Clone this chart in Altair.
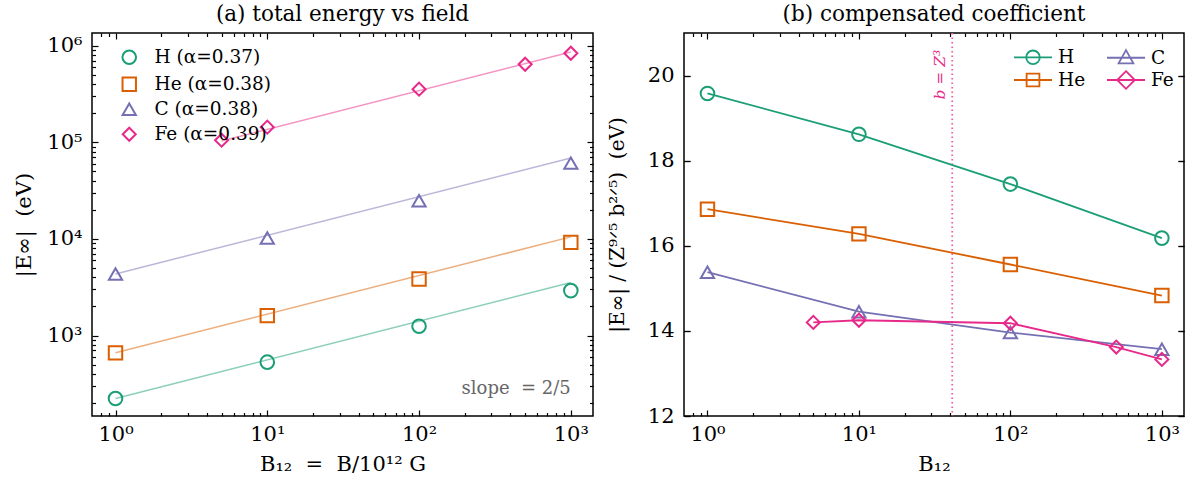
import altair as alt
import pandas as pd

FONT = "DejaVu Serif"

# ---------------- data ----------------
elements = ["H", "He", "C", "Fe"]
alphas = ["0.37", "0.38", "0.38", "0.39"]
colors = ["#1b9e77", "#d95f02", "#7570b3", "#e7298a"]
shapes = ["circle", "square", "triangle-up", "diamond"]
marker_sizes = [185, 170, 225, 310]

# panel (a): |E_inf| (eV) vs B12
B_H = [1, 10, 100, 1000]
E_H = [223, 530, 1247, 2915]
B_He = [1, 10, 100, 1000]
E_He = [662, 1607, 3846, 9204]
B_C = [1, 10, 100, 1000]
E_C = [4335, 10210, 24830, 60800]
B_Fe = [5, 10, 100, 500, 1000]
E_Fe = [105000, 143200, 354000, 641000, 833000]

# slope = 2/5 guide lines (end points)
fit_B_H = [1, 1000]
fit_E_H = [223, 3535]
fit_B_He = [1, 1000]
fit_E_He = [662, 10490]
fit_B_C = [1, 1000]
fit_E_C = [4335, 68700]
fit_B_Fe = [5, 1000]
fit_E_Fe = [103000, 858000]

# panel (b): compensated coefficient
C_H = [19.58, 18.62, 17.45, 16.18]
C_He = [16.86, 16.28, 15.56, 14.83]
C_C = [15.38, 14.45, 13.96, 13.57]
C_Fe = [14.20, 14.25, 14.18, 13.62, 13.33]

b_eq_Z3_B = [41.3]
b_label_C = [20.02]
slope_B = [1000]
slope_E = [282]

# axes ticks & labels
x_major = [1, 10, 100, 1000]
x_labels = ["10⁰", "10¹", "10²", "10³"]
x_minor = [0.8, 0.9, 2, 3, 4, 5, 6, 7, 8, 9, 20, 30, 40, 50, 60, 70, 80, 90,
           200, 300, 400, 500, 600, 700, 800, 900]
ya_major = [1000, 10000, 100000, 1000000]
ya_labels = ["10³", "10⁴", "10⁵", "10⁶"]
ya_minor = [200, 300, 400, 500, 600, 700, 800, 900,
            2000, 3000, 4000, 5000, 6000, 7000, 8000, 9000,
            20000, 30000, 40000, 50000, 60000, 70000, 80000, 90000,
            200000, 300000, 400000, 500000, 600000, 700000, 800000, 900000]
yb_major = [12, 14, 16, 18, 20]

# legend glyphs for panel (b): line segment with the marker in its middle
# (unit = half of sqrt(symbolSize))
legend_paths = [
    "M-1,0H2.8M1.58,0A0.68,0.68,0,1,1,0.22,0A0.68,0.68,0,1,1,1.58,0",
    "M-1,0H2.8M0.26,-0.64H1.54V0.64H0.26Z",
    "M-1,0H2.8M0.9,-0.76L1.64,0.56H0.16Z",
    "M-1,0H2.8M0.9,-0.88L1.78,0L0.9,0.88L0.02,0Z",
]

NB = "\u00a0"

# ---------------- tables ----------------
def long_table(xs_list, ys_list, xname, yname):
    rows = []
    for el, xs, ys in zip(elements, xs_list, ys_list):
        for x, y in zip(xs, ys):
            rows.append({"el": el, xname: x, yname: y})
    return pd.DataFrame(rows)

df_a = long_table([B_H, B_He, B_C, B_Fe], [E_H, E_He, E_C, E_Fe], "B", "E")
df_fit = long_table([fit_B_H, fit_B_He, fit_B_C, fit_B_Fe],
                    [fit_E_H, fit_E_He, fit_E_C, fit_E_Fe], "B", "E")
df_b = long_table([B_H, B_He, B_C, B_Fe], [C_H, C_He, C_C, C_Fe], "B", "C")
df_slope = pd.DataFrame({"B": slope_B, "E": slope_E, "t": ["slope" + NB + NB + "= 2/5"]})
df_vline = pd.DataFrame({"B": b_eq_Z3_B, "C": b_label_C, "t": ["b = Z³"]})

# ---------------- helpers ----------------
def label_expr(labels, offset):
    arr = "[" + ",".join("'" + s + "'" for s in labels) + "]"
    return f"{arr}[round(log(datum.value)/LN10) - {offset}]"

def tick_axis(orient, values, size):
    return alt.Axis(orient=orient, values=values, ticks=True,
                    tickSize={"expr": str(-size)}, tickColor="black",
                    tickWidth=1.2, labels=False, domain=False, grid=False,
                    title=None, minExtent=0, maxExtent=0)

def main_axis(orient, values, title, lab_expr=None, pad=7, tpad=8, tsize=21):
    kw = dict(orient=orient, values=values, ticks=False, domain=False,
              grid=False, title=title, labelFont=FONT, titleFont=FONT,
              labelFontSize=21, titleFontSize=tsize, labelColor="black",
              titleColor="black", titleFontWeight="normal",
              labelPadding=pad, titlePadding=tpad,
              labelFlush=False, labelOverlap=False)
    if lab_expr is not None:
        kw["labelExpr"] = lab_expr
    return alt.Axis(**kw)

W, H = 501, 383

color_scale = alt.Scale(domain=elements, range=colors)
shape_scale = alt.Scale(domain=elements, range=shapes)
size_scale = alt.Scale(domain=elements, range=marker_sizes)

# ---------------- panel (a) ----------------
xa = alt.Scale(type="log", domain=[0.7, 1400], nice=False)
ya = alt.Scale(type="log", domain=[147, 1.35e6], nice=False)

legend_a_labels = "{" + ",".join(f"'{e}':'{e} (α={a})'" for e, a in zip(elements, alphas)) + "}"
leg_a = alt.Legend(title=None, orient="none", legendX=28, legendY=15,
                   labelFont=FONT, labelFontSize=18.5, labelColor="black",
                   labelExpr=legend_a_labels + "[datum.label]",
                   symbolStrokeWidth=2, rowPadding=4, labelOffset=16,
                   symbolOpacity=1, symbolFillColor="transparent")

lines_a = alt.Chart(df_fit).mark_line(strokeWidth=1.5, opacity=0.5).encode(
    x=alt.X("B:Q", scale=xa,
            axis=main_axis("bottom", x_major, "B₁₂" + NB + " =" + NB + " B/10¹² G",
                           label_expr(x_labels, 0), pad=7, tpad=9)),
    y=alt.Y("E:Q", scale=ya,
            axis=main_axis("left", ya_major, "|E∞|" + NB + NB + "(eV)",
                           label_expr(ya_labels, 3), pad=10, tpad=12)),
    color=alt.Color("el:N", scale=color_scale, legend=None),
    detail="el:N",
)
points_a = alt.Chart(df_a).mark_point(filled=False, strokeWidth=2, opacity=1).encode(
    x=alt.X("B:Q", scale=xa, axis=None),
    y=alt.Y("E:Q", scale=ya, axis=None),
    color=alt.Color("el:N", scale=color_scale, legend=leg_a),
    shape=alt.Shape("el:N", scale=shape_scale, legend=leg_a),
    size=alt.Size("el:N", scale=size_scale, legend=leg_a),
)
slope_txt = alt.Chart(df_slope).mark_text(
    align="right", baseline="middle", font=FONT, fontSize=18, color="#666666"
).encode(
    x=alt.X("B:Q", scale=xa, axis=None),
    y=alt.Y("E:Q", scale=ya, axis=None),
    text="t:N",
)

def tick_layers(df, xs, ys, xfield, yfield, x_maj, x_min, y_maj, y_min):
    out = []
    specs = [("bottom", x_maj, 6, "left", y_maj, 6),
             ("top", x_maj, 6, "right", y_maj, 6)]
    if x_min is not None:
        specs.append(("bottom", x_min, 3.5, "left", y_min if y_min else y_maj, 3.5 if y_min else 6))
        specs.append(("top", x_min, 3.5, "right", y_min if y_min else y_maj, 3.5 if y_min else 6))
    for xo, xv, xsz, yo, yv, ysz in specs:
        out.append(alt.Chart(df).mark_point(opacity=0).encode(
            x=alt.X(f"{xfield}:Q", scale=xs, axis=tick_axis(xo, xv, xsz)),
            y=alt.Y(f"{yfield}:Q", scale=ys, axis=tick_axis(yo, yv, ysz)),
        ))
    return out

panel_a = alt.layer(
    lines_a, points_a, slope_txt,
    *tick_layers(df_a, xa, ya, "B", "E", x_major, x_minor, ya_major, ya_minor)
).resolve_legend(color="independent", shape="independent", size="independent").resolve_axis(
    x="independent", y="independent"
).properties(width=W, height=H, title="(a) total energy vs field")

# ---------------- panel (b) ----------------
xb = alt.Scale(type="log", domain=[0.7, 1400], nice=False)
yb = alt.Scale(domain=[12, 21], nice=False, zero=False)

leg_b = alt.Legend(title=None, orient="none", legendX=329, legendY=13,
                   columns=2, columnPadding=17, rowPadding={"expr": "-1"},
                   labelFont=FONT, labelFontSize=18.5, labelColor="black",
                   symbolSize=400, symbolStrokeWidth=1.8, symbolOpacity=1,
                   symbolFillColor="transparent", labelOffset=23)

lines_b = alt.Chart(df_b).mark_line(strokeWidth=1.8).encode(
    x=alt.X("B:Q", scale=xb,
            axis=main_axis("bottom", x_major, "B₁₂", label_expr(x_labels, 0),
                           pad=7, tpad=9)),
    y=alt.Y("C:Q", scale=yb,
            axis=main_axis("left", yb_major, "|E∞| / (Z⁹ᐟ⁵ b²ᐟ⁵)" + NB + " (eV)",
                           pad=10, tpad=20, tsize=20)),
    color=alt.Color("el:N", scale=color_scale, legend=None),
    detail="el:N",
)
points_b = alt.Chart(df_b).mark_point(filled=False, strokeWidth=2, opacity=1).encode(
    x=alt.X("B:Q", scale=xb, axis=None),
    y=alt.Y("C:Q", scale=yb, axis=None),
    color=alt.Color("el:N", scale=color_scale, legend=None),
    shape=alt.Shape("el:N", scale=shape_scale, legend=None),
    size=alt.Size("el:N", scale=size_scale, legend=None),
)
legend_b_layer = alt.Chart(df_b).mark_point(filled=False, opacity=0).encode(
    x=alt.X("B:Q", scale=xb, axis=None),
    y=alt.Y("C:Q", scale=yb, axis=None),
    color=alt.Color("el:N", scale=color_scale, legend=leg_b),
    shape=alt.Shape("el:N", scale=alt.Scale(domain=elements, range=legend_paths), legend=leg_b),
)
vline = alt.Chart(df_vline).mark_rule(
    color="#ec5fa6", strokeDash=[1.5, 3], strokeWidth=1.8
).encode(x=alt.X("B:Q", scale=xb, axis=None))
vtext = alt.Chart(df_vline).mark_text(
    angle=270, align="center", baseline="bottom", dy=-4, font=FONT,
    fontStyle="italic", fontSize=15.5, color="#e7298a"
).encode(
    x=alt.X("B:Q", scale=xb, axis=None),
    y=alt.Y("C:Q", scale=yb, axis=None),
    text="t:N",
)

panel_b = alt.layer(
    vline, lines_b, points_b, legend_b_layer, vtext,
    *tick_layers(df_b, xb, yb, "B", "C", x_major, x_minor, yb_major, None)
).resolve_scale(color="independent", shape="independent").resolve_axis(
    x="independent", y="independent"
).properties(width=500, height=H, title="(b) compensated coefficient")

chart = alt.hconcat(panel_a, panel_b, spacing=11).configure_view(
    stroke="black", strokeWidth=1.5
).configure_title(
    font=FONT, fontSize=21.5, fontWeight="normal", color="black", offset=7, anchor="middle"
).configure_legend(
    symbolFillColor="transparent"
).properties(
    padding={"left": 13, "top": 2, "right": 5, "bottom": 5},
    background="white",
)

chart.save("out.html", embed_options={"renderer": "svg", "actions": False})
